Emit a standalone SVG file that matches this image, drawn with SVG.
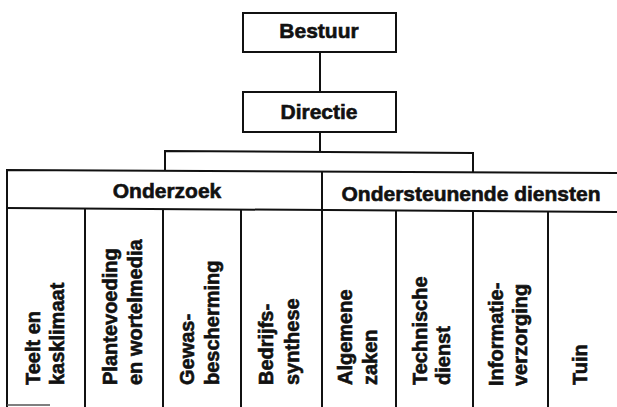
<svg xmlns="http://www.w3.org/2000/svg" width="617" height="407" viewBox="0 0 617 407">
<style>
.box{fill:#fff;stroke:#111;stroke-width:2}
.ln{fill:none;stroke:#111;stroke-width:2}
.h{font-family:"Liberation Sans",Arial,sans-serif;font-weight:bold;font-size:21px;fill:#111;stroke:#111;stroke-width:0.6;text-anchor:middle}
.v{font-family:"Liberation Sans",Arial,sans-serif;font-weight:bold;font-size:20px;fill:#111;stroke:#111;stroke-width:0.6}
</style>
<rect width="617" height="407" fill="#fff"/>
<g id="connectors">
<line class="ln" x1="320" y1="52" x2="320" y2="92"/>
<line class="ln" x1="320" y1="132" x2="320" y2="152"/>
<polyline class="ln" points="165,171 165,151 473,153 473,173"/>
</g>
<g id="bestuur">
<rect class="box" x="243" y="13" width="153" height="39"/>
<text class="h" x="319" y="38">Bestuur</text>
</g>
<g id="directie">
<rect class="box" x="243" y="92" width="153" height="40"/>
<text class="h" x="319" y="119">Directie</text>
</g>
<g id="header">
<polyline class="ln" points="617,173 7,170 7,407"/>
<line class="ln" x1="7" y1="208" x2="617" y2="212"/>
<line class="ln" x1="322" y1="171" x2="322" y2="407"/>
<line stroke="#555" stroke-width="1.5" x1="7" y1="405" x2="50" y2="405"/>
</g>
<g id="onderzoek">
<text class="h" x="167" y="198">Onderzoek</text>
</g>
<g id="ondersteunende">
<text class="h" x="471" y="201">Ondersteunende diensten</text>
</g>
<g id="columns">
<line class="ln" x1="85" y1="209" x2="85" y2="407"/>
<line class="ln" x1="163" y1="209" x2="163" y2="407"/>
<line class="ln" x1="241" y1="210" x2="241" y2="407"/>
<line class="ln" x1="396" y1="211" x2="396" y2="407"/>
<line class="ln" x1="473" y1="211" x2="473" y2="407"/>
<line class="ln" x1="548" y1="212" x2="548" y2="407"/>
</g>
<g id="teelt">
<text class="v" transform="translate(40,385) rotate(-90)">Teelt en</text>
<text class="v" transform="translate(64,385) rotate(-90)">kasklimaat</text>
</g>
<g id="plantevoeding">
<text class="v" transform="translate(117,385) rotate(-90)">Plantevoeding</text>
<text class="v" transform="translate(142,385) rotate(-90)">en wortelmedia</text>
</g>
<g id="gewas">
<text class="v" transform="translate(194,385) rotate(-90)">Gewas-</text>
<text class="v" transform="translate(219,385) rotate(-90)">bescherming</text>
</g>
<g id="bedrijfs">
<text class="v" transform="translate(273,385) rotate(-90)">Bedrijfs-</text>
<text class="v" transform="translate(299,385) rotate(-90)">synthese</text>
</g>
<g id="algemene">
<text class="v" transform="translate(352,385) rotate(-90)">Algemene</text>
<text class="v" transform="translate(377,385) rotate(-90)">zaken</text>
</g>
<g id="technische">
<text class="v" transform="translate(427,385) rotate(-90)">Technische</text>
<text class="v" transform="translate(450,385) rotate(-90)">dienst</text>
</g>
<g id="informatie">
<text class="v" transform="translate(503,386) rotate(-90)">Informatie-</text>
<text class="v" transform="translate(527,386) rotate(-90)">verzorging</text>
</g>
<g id="tuin">
<text class="v" transform="translate(587,385) rotate(-90)">Tuin</text>
</g>
</svg>
